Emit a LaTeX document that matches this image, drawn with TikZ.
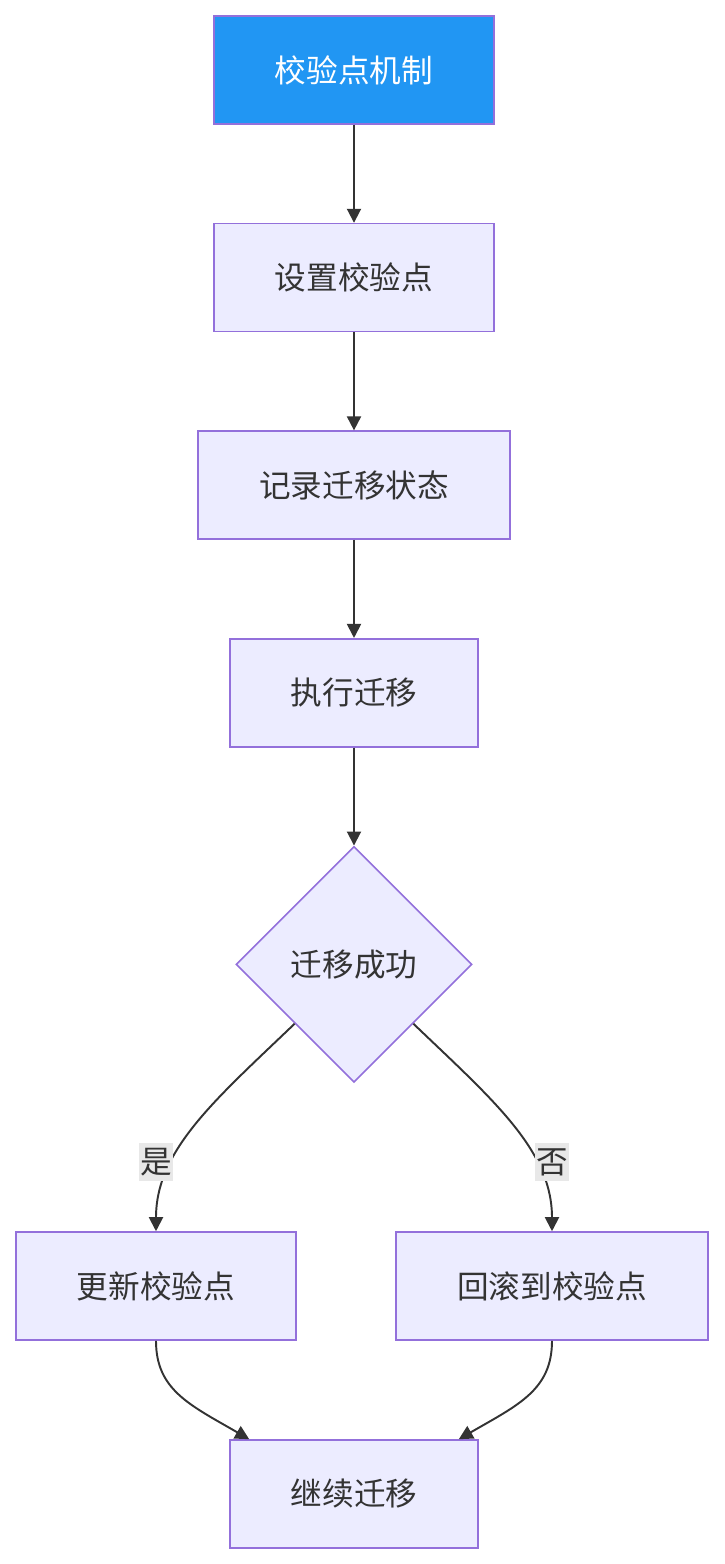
\documentclass[tikz,border=0pt]{standalone}
\usepackage{fontspec}
\setmainfont{Noto Sans CJK SC}
\usetikzlibrary{arrows.meta,positioning,shapes.geometric}
\definecolor{edgeline}{HTML}{333333}
\definecolor{nodeborder}{HTML}{9370DB}
\definecolor{nodefill}{HTML}{ECECFF}
\definecolor{startblue}{HTML}{2196F3}
\definecolor{labelgray}{HTML}{E8E8E8}
\tikzset{
  proc/.style={draw=nodeborder,line width=0.9pt,fill=nodefill,minimum height=2.16cm,
               minimum width=5.6cm,align=center,text=edgeline,
               font=\fontsize{18}{21}\selectfont},
  startbox/.style={proc,fill=startblue,text=white},
  decision/.style={diamond,draw=nodeborder,line width=0.9pt,fill=nodefill,aspect=1,
                   minimum width=4.72cm,minimum height=4.72cm,inner sep=0pt,
                   text=edgeline,font=\fontsize{18}{21}\selectfont},
  elabel/.style={fill=labelgray,inner xsep=0.5pt,inner ysep=3pt,text=edgeline,
                 font=\fontsize{18}{21}\selectfont},
  arrow/.style={-{Triangle[length=2.8mm,width=2.8mm]},line width=1.1pt,draw=edgeline}
}
\begin{document}
\begin{tikzpicture}[node distance=1.96cm]
\useasboundingbox (0,0) rectangle (14.48,-31.28);
\node[startbox] (mech) at (7.08,-1.4) {校验点机制};
\node[proc,below=of mech] (setcp) {设置校验点};
\node[proc,below=of setcp,minimum width=6.24cm] (record) {记录迁移状态};
\node[proc,below=of record,minimum width=4.96cm] (exec) {执行迁移};
\node[decision,below=of exec] (ok) {迁移成功};
\node[proc] (update) at (3.12,-25.72) {更新校验点};
\node[proc,minimum width=6.24cm] (rollback) at (11.04,-25.72) {回滚到校验点};
\node[proc,minimum width=4.96cm] (cont) at (7.08,-29.88) {继续迁移};
\draw[arrow] (mech)--(setcp);
\draw[arrow] (setcp)--(record);
\draw[arrow] (record)--(exec);
\draw[arrow] (exec)--(ok);
\draw[arrow] (ok.south west) .. controls (4.3,-22) and (3.12,-23) .. (update.north);
\draw[arrow] (ok.south east) .. controls (9.86,-22) and (11.04,-23) .. (rollback.north);
\node[elabel] (yes) at (3.12,-23.24) {是};
\node[elabel] (no) at (11.04,-23.24) {否};
\draw[arrow] (update.south) .. controls (3.12,-27.8) and (3.8,-28.1) .. ([xshift=0.4cm]cont.north west);
\draw[arrow] (rollback.south) .. controls (11.04,-27.8) and (10.36,-28.1) .. ([xshift=-0.4cm]cont.north east);
\end{tikzpicture}
\end{document}
